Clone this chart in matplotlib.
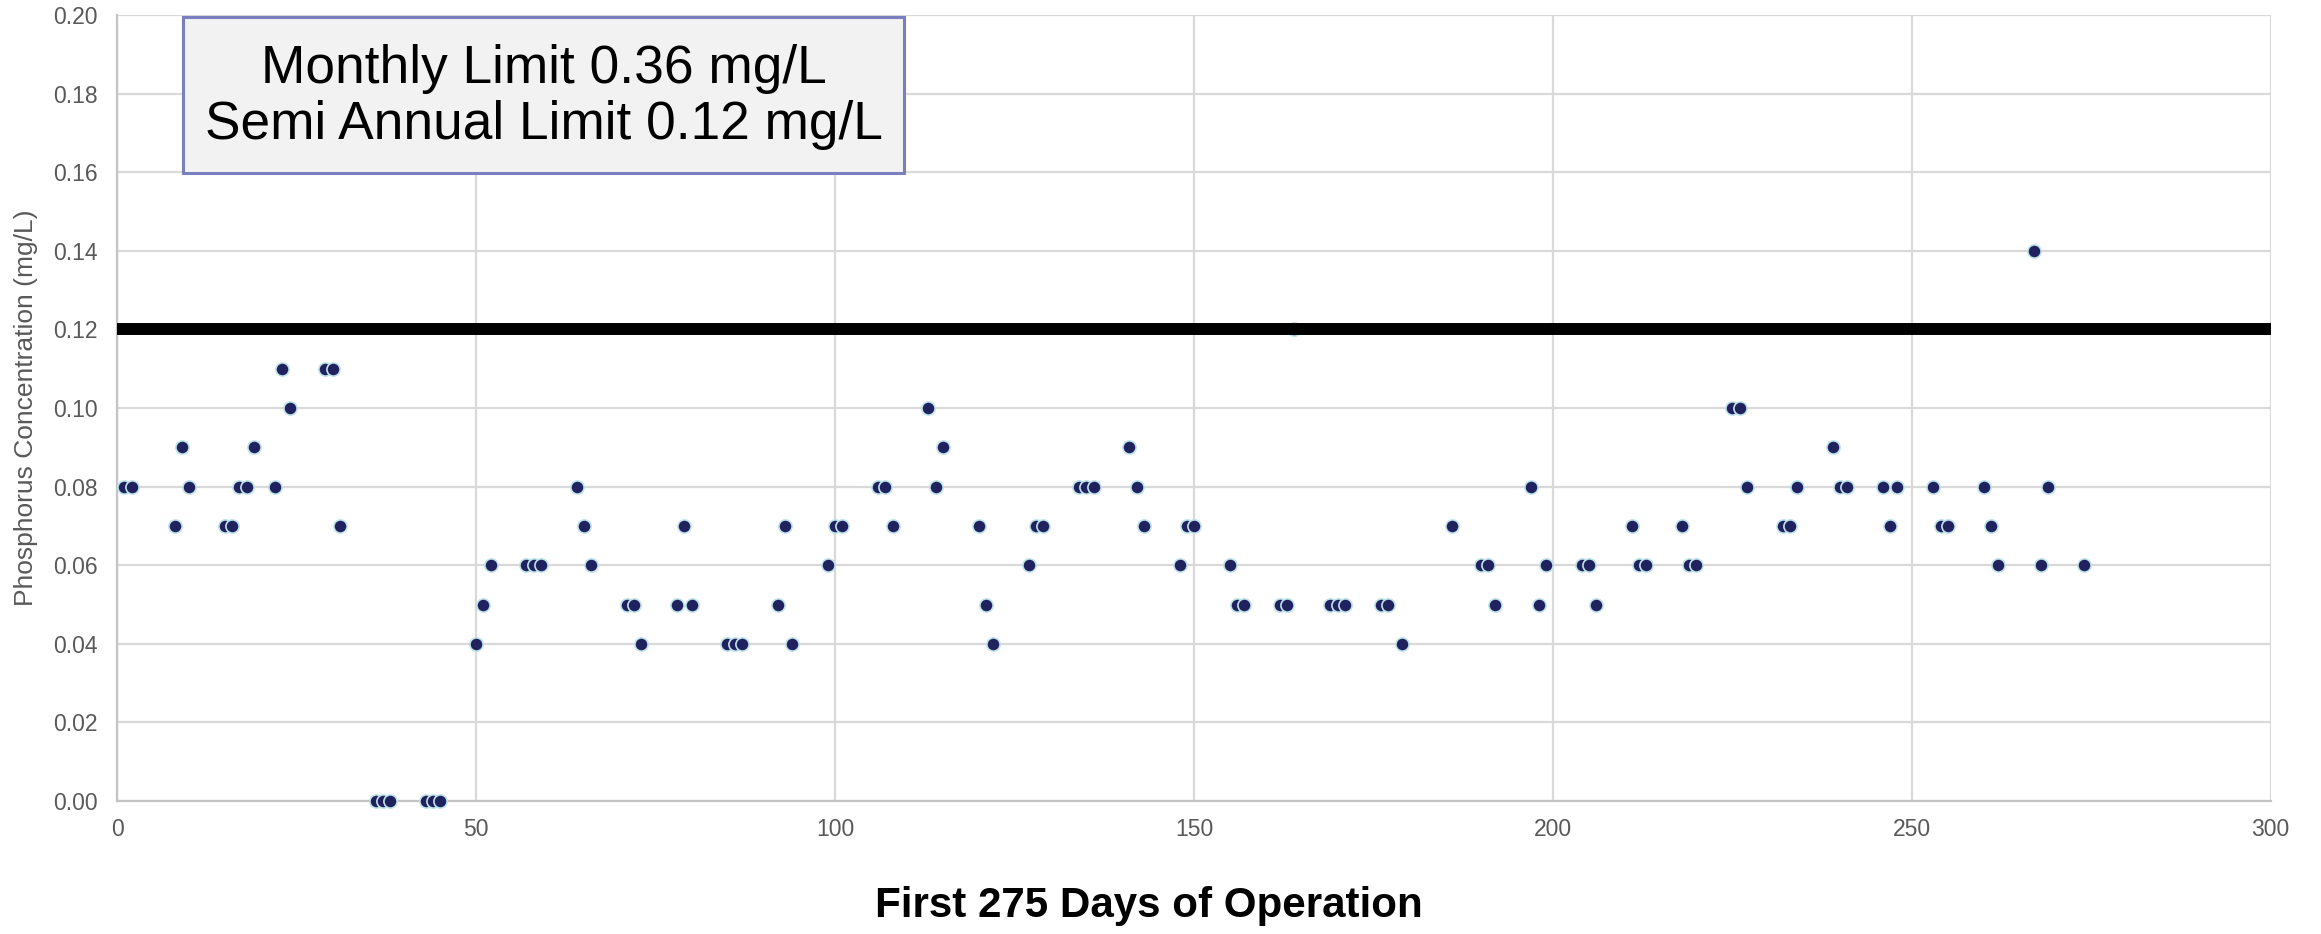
import matplotlib
matplotlib.use("Agg")
import matplotlib.pyplot as plt
from matplotlib.patches import Rectangle

plt.rcParams['font.family'] = ['Liberation Sans', 'DejaVu Sans']

# sample day and total phosphorus result (mg/L)
days = [1, 2, 8, 9, 10, 15, 16, 17, 18, 19, 22, 23, 24, 29, 30, 31,
        36, 37, 38, 43, 44, 45, 50, 51, 52, 57, 58, 59, 64, 65, 66,
        71, 72, 73, 78, 79, 80, 85, 86, 87, 92, 93, 94, 99, 100, 101,
        106, 107, 108, 113, 114, 115, 120, 121, 122, 127, 128, 129,
        134, 135, 136, 141, 142, 143, 148, 149, 150, 155, 156, 157,
        162, 163, 164, 169, 170, 171, 176, 177, 179, 186, 190, 191, 192,
        197, 198, 199, 204, 205, 206, 211, 212, 213, 218, 219, 220,
        225, 226, 227, 232, 233, 234, 239, 240, 241, 246, 247, 248,
        253, 254, 255, 260, 261, 262, 267, 268, 269, 274]
phosphorus = [0.08, 0.08, 0.07, 0.09, 0.08, 0.07, 0.07, 0.08, 0.08, 0.09, 0.08, 0.11, 0.10, 0.11, 0.11, 0.07,
              0.00, 0.00, 0.00, 0.00, 0.00, 0.00, 0.04, 0.05, 0.06, 0.06, 0.06, 0.06, 0.08, 0.07, 0.06,
              0.05, 0.05, 0.04, 0.05, 0.07, 0.05, 0.04, 0.04, 0.04, 0.05, 0.07, 0.04, 0.06, 0.07, 0.07,
              0.08, 0.08, 0.07, 0.10, 0.08, 0.09, 0.07, 0.05, 0.04, 0.06, 0.07, 0.07,
              0.08, 0.08, 0.08, 0.09, 0.08, 0.07, 0.06, 0.07, 0.07, 0.06, 0.05, 0.05,
              0.05, 0.05, 0.12, 0.05, 0.05, 0.05, 0.05, 0.05, 0.04, 0.07, 0.06, 0.06, 0.05,
              0.08, 0.05, 0.06, 0.06, 0.06, 0.05, 0.07, 0.06, 0.06, 0.07, 0.06, 0.06,
              0.10, 0.10, 0.08, 0.07, 0.07, 0.08, 0.09, 0.08, 0.08, 0.08, 0.07, 0.08,
              0.08, 0.07, 0.07, 0.08, 0.07, 0.06, 0.14, 0.06, 0.08, 0.06]

# semi annual permit limit drawn across the whole period
limit_days = [0, 300]
limit_value = [0.12, 0.12]

x_ticks = [0, 50, 100, 150, 200, 250, 300]
y_ticks = [0.00, 0.02, 0.04, 0.06, 0.08, 0.10, 0.12, 0.14, 0.16, 0.18, 0.20]

grey_text = '#595959'
grid_col = '#d9d9d9'

fig = plt.figure(figsize=(23.21, 9.34), dpi=100)
ax = fig.add_axes([117.3 / 2321, 1 - 801 / 934, 2153.4 / 2321, 786 / 934])

ax.scatter(days, phosphorus, s=90, color='#20215f', edgecolors='#bfe3e8',
           linewidths=1.2, zorder=3, clip_on=False)
ax.plot(limit_days, limit_value, color='black', lw=8.6, solid_capstyle='butt',
        zorder=4, clip_on=False)

ax.set_xlim(0, 300)
ax.set_ylim(0, 0.20)
ax.set_xticks(x_ticks)
ax.set_yticks(y_ticks)
ax.set_xticklabels([str(t) for t in x_ticks])
ax.set_yticklabels([f'{t:.2f}' for t in y_ticks])
ax.tick_params(axis='both', length=0, labelsize=16.5, labelcolor=grey_text)
ax.tick_params(axis='y', pad=14)
ax.tick_params(axis='x', pad=12)

ax.grid(True, color=grid_col, lw=1.6, zorder=0)
ax.set_axisbelow(True)
for side in ['top', 'right']:
    ax.spines[side].set_visible(False)
for side in ['left', 'bottom']:
    ax.spines[side].set_color('#c4c4c4')
    ax.spines[side].set_linewidth(1.6)

ax.set_ylabel('Phosphorus Concentration (mg/L)', fontsize=19, color=grey_text, labelpad=11)
fig.text(0.495, 0.03, 'First 275 Days of Operation', fontsize=30.3, fontweight='bold',
         ha='center', va='center')

# permit limits note
ax.add_patch(Rectangle((0.0307, 0.799), 0.3346, 0.1988, transform=ax.transAxes,
                       facecolor='#f2f2f2', edgecolor='#7a80bf', lw=2.2, zorder=5))
ax.text(0.198, 0.896, 'Monthly Limit 0.36 mg/L\nSemi Annual Limit 0.12 mg/L',
        transform=ax.transAxes, ha='center', va='center', fontsize=38.3,
        linespacing=1.15, zorder=6)

fig.savefig('out.png', dpi=100)
